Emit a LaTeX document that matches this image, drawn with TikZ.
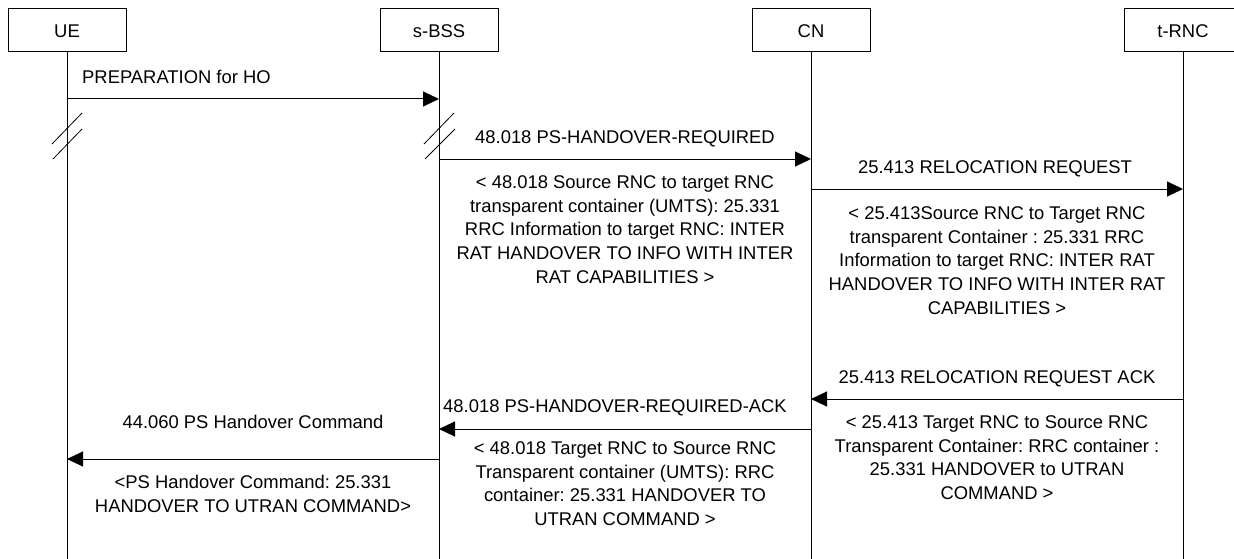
\documentclass[tikz,border=0pt]{standalone}
\usepackage{fontspec}
\setmainfont{Liberation Sans}
\usetikzlibrary{arrows.meta}
\begin{document}
\frenchspacing
\begin{tikzpicture}[x=1pt,y=-1pt,
  every node/.style={font=\fontsize{18.4}{23.75}\selectfont},
  entity/.style={draw,line width=1pt,minimum width=118pt,minimum height=43pt,inner sep=0pt,text height=13.2pt,text depth=0pt},
  lifeline/.style={line width=1pt},
  msg/.style={line width=1pt,-{Triangle[length=16pt,width=15pt]}},
  lbl/.style={inner sep=0pt,text height=13.2pt,text depth=0pt},
  body/.style={inner sep=0pt,align=center,anchor=north},
  brk/.style={line width=0.8pt}]
\useasboundingbox (0,0) rectangle (1234,559);
\clip (0,0) rectangle (1234,559);
% entities
\node[entity] (ue) at (67,30.5) {UE};
\node[entity] (sbss) at (439,30.5) {s-BSS};
\node[entity] (cn) at (811,30.5) {CN};
\node[entity] (trnc) at (1183,30.5) {t-RNC};
\coordinate (ueE) at (67,559);
\coordinate (sbssE) at (439,559);
\coordinate (cnE) at (811,559);
\coordinate (trncE) at (1183,559);
\draw[lifeline] (ue) -- (ueE);
\draw[lifeline] (sbss) -- (sbssE);
\draw[lifeline] (cn) -- (cnE);
\draw[lifeline] (trnc) -- (trncE);
% break marks
\coordinate (b1a) at (52,144); \coordinate (b1b) at (82,113);
\coordinate (b2a) at (53,159); \coordinate (b2b) at (82,129);
\coordinate (b3a) at (424,144); \coordinate (b3b) at (454,113);
\coordinate (b4a) at (425,159); \coordinate (b4b) at (455,129);
\draw[brk] (b1a) -- (b1b);
\draw[brk] (b2a) -- (b2b);
\draw[brk] (b3a) -- (b3b);
\draw[brk] (b4a) -- (b4b);
% message end points
\coordinate (m1s) at (67,99);   \coordinate (m1e) at (439,99);
\coordinate (m2s) at (439,159); \coordinate (m2e) at (811,159);
\coordinate (m3s) at (811,189); \coordinate (m3e) at (1183,189);
\coordinate (m4s) at (1183,399); \coordinate (m4e) at (811,399);
\coordinate (m5s) at (811,429); \coordinate (m5e) at (439,429);
\coordinate (m6s) at (439,459); \coordinate (m6e) at (67,459);
\draw[msg] (m1s) -- (m1e);
\draw[msg] (m2s) -- (m2e);
\draw[msg] (m3s) -- (m3e);
\draw[msg] (m4s) -- (m4e);
\draw[msg] (m5s) -- (m5e);
\draw[msg] (m6s) -- (m6e);
% labels
\node[lbl,anchor=west] (l1) at (82,77) {PREPARATION for HO};
\node[lbl] (l2) at (625,137) {48.018 PS-HANDOVER-REQUIRED};
\node[lbl] (l3) at (995,167) {25.413 RELOCATION REQUEST};
\node[lbl] (l4) at (997,377) {25.413 RELOCATION REQUEST ACK};
\node[lbl] (l5) at (615,406) {48.018 PS-HANDOVER-REQUIRED-ACK};
\node[lbl] (l6) at (253,422) {44.060 PS Handover Command};
% bodies
\node[body] (t2) at (625,171.6) {\strut< 48.018 Source RNC to target RNC\\transparent container (UMTS): 25.331\\RRC Information to target RNC: INTER\\RAT HANDOVER TO INFO WITH INTER\\RAT CAPABILITIES >};
\node[body] (t3) at (997,202.6) {\strut< 25.413Source RNC to Target RNC\\transparent Container : 25.331 RRC\\Information to target RNC: INTER RAT\\HANDOVER TO INFO WITH INTER RAT\\CAPABILITIES >};
\node[body] (t4) at (997,411.6) {\strut< 25.413 Target RNC to Source RNC\\Transparent Container: RRC container :\\25.331 HANDOVER to UTRAN\\COMMAND >};
\node[body] (t5) at (625,437.6) {\strut< 48.018 Target RNC to Source RNC\\Transparent container (UMTS): RRC\\container: 25.331 HANDOVER TO\\UTRAN COMMAND >};
\node[body] (t6) at (253,471.6) {\strut<PS Handover Command: 25.331\\HANDOVER TO UTRAN COMMAND>};
\end{tikzpicture}
\end{document}
